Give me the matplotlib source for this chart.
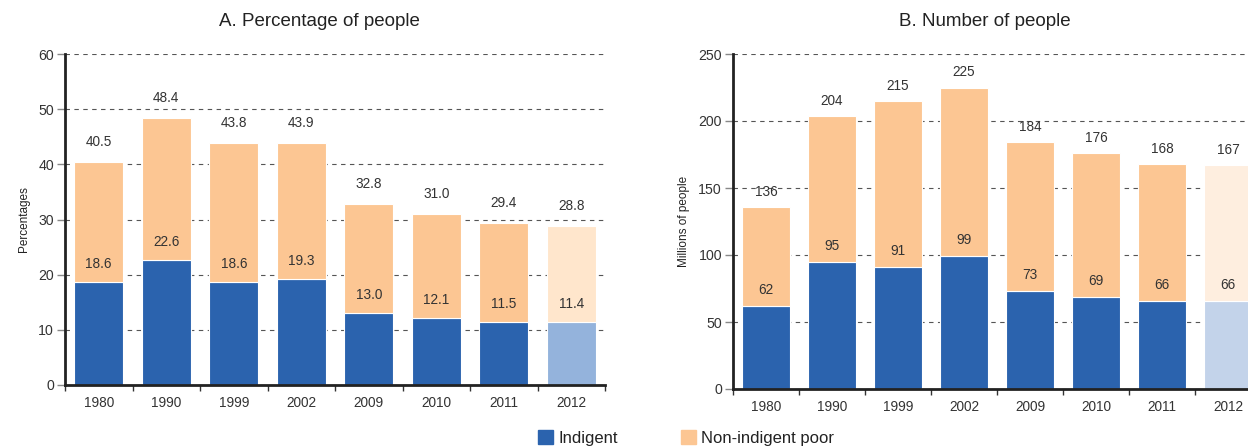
import numpy as np
import matplotlib.pyplot as plt
from matplotlib.patches import Patch

plt.rcParams['font.family'] = ['Liberation Sans', 'DejaVu Sans']

# Data
years = ['1980', '1990', '1999', '2002', '2009', '2010', '2011', '2012']
pct_total = [40.5, 48.4, 43.8, 43.9, 32.8, 31.0, 29.4, 28.8]
pct_indigent = [18.6, 22.6, 18.6, 19.3, 13.0, 12.1, 11.5, 11.4]
num_total = [136, 204, 215, 225, 184, 176, 168, 167]
num_indigent = [62, 95, 91, 99, 73, 69, 66, 66]

# Colours
blue = '#2b63ae'
orange = '#fcc693'
left_light = ('#94b3dc', '#ffe6cc')   # projected 2012, panel A
right_light = ('#c3d3ea', '#feeedf')  # projected 2012, panel B

txt = '#333333'

fig = plt.figure(figsize=(12.48, 4.47), dpi=100)
W, H = 1248, 447


def make_axes(x0, x1, y0, y1):
    return fig.add_axes([x0 / W, 1 - y1 / H, (x1 - x0) / W, (y1 - y0) / H])


def draw_panel(ax, total, indigent, light, ymax, step, title, title_x, ylabel, top_off, in_off):
    x = np.arange(len(years))
    non_ind = [t - i for t, i in zip(total, indigent)]
    blues = [blue] * (len(years) - 1) + [light[0]]
    oranges = [orange] * (len(years) - 1) + [light[1]]
    w = 0.73
    ax.bar(x, indigent, width=w, color=blues, edgecolor='white', linewidth=0.8, zorder=2)
    ax.bar(x, non_ind, width=w, bottom=indigent, color=oranges, edgecolor='white',
           linewidth=0.8, zorder=2)
    for xi, t, i in zip(x, total, indigent):
        lab_t = f'{t:.1f}' if isinstance(t, float) else f'{t}'
        lab_i = f'{i:.1f}' if isinstance(i, float) else f'{i}'
        ax.annotate(lab_t, (xi, t), xytext=(0, top_off), textcoords='offset pixels',
                    ha='center', va='center', fontsize=9.8, color=txt, zorder=3)
        ax.annotate(lab_i, (xi, i), xytext=(0, in_off), textcoords='offset pixels',
                    ha='center', va='center', fontsize=9.8, color=txt, zorder=3)

    ax.set_xlim(-0.5, len(years) - 0.5)
    ax.set_ylim(0, ymax)
    ax.set_yticks(np.arange(0, ymax + 1, step))
    ax.set_xticks(np.arange(-0.5, len(years), 1.0))
    ax.set_xticklabels([])
    ax.set_xticks(x, minor=True)
    ax.set_xticklabels(years, minor=True)
    ax.tick_params(axis='x', which='minor', length=0, pad=8, labelsize=9.8, labelcolor=txt)
    ax.tick_params(axis='x', which='major', length=4, width=1, color='#333333', direction='out')
    ax.tick_params(axis='y', length=6, width=1, color='#888888', labelsize=10.2,
                   labelcolor=txt, pad=2)
    ax.grid(axis='y', linestyle=(0, (4, 4)), color='#555555', linewidth=0.8, zorder=0)
    ax.set_axisbelow(True)
    for s in ['top', 'right']:
        ax.spines[s].set_visible(False)
    for s in ['left', 'bottom']:
        ax.spines[s].set_linewidth(2)
        ax.spines[s].set_color('#222222')
    ax.set_title(title, fontsize=13.5, color='#222222', pad=20, x=title_x)
    ax.set_ylabel(ylabel, fontsize=8.5, color='#222222', labelpad=6)


axA = make_axes(65, 605, 54, 385)
draw_panel(axA, pct_total, pct_indigent, left_light, 60, 10,
           'A. Percentage of people', 0.472, 'Percentages', 20, 18)

axB = make_axes(733, 1261, 54, 389)
draw_panel(axB, num_total, num_indigent, right_light, 250, 50,
           'B. Number of people', 0.477, 'Millions of people', 15, 16)

# Legend
handles = [Patch(color=blue, label='Indigent'), Patch(color=orange, label='Non-indigent poor')]
fig.legend(handles=handles, loc='center', bbox_to_anchor=(0.5497, 1 - 438 / H), ncol=2,
           frameon=False, fontsize=12, handlelength=0.9, handleheight=0.9,
           columnspacing=3.8, handletextpad=0.3, labelcolor='#222222')

fig.savefig('out.png', dpi=100)
